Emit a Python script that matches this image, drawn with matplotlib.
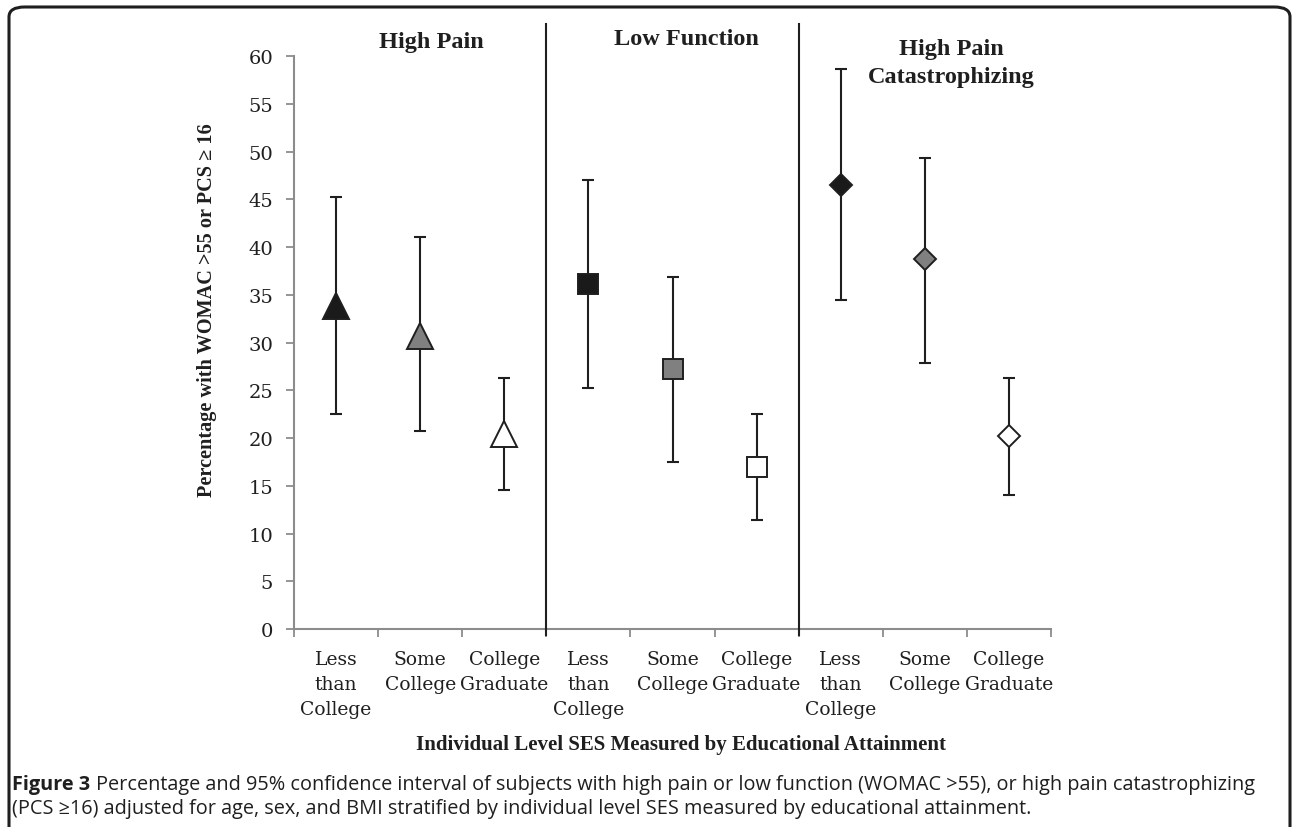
import matplotlib
matplotlib.use("Agg")
import matplotlib.pyplot as plt
from matplotlib.patches import FancyBboxPatch
import numpy as np

# data
groups = ["High Pain", "Low Function", "High Pain\nCatastrophizing"]
levels = ["Less\nthan\nCollege", "Some\nCollege", "College\nGraduate"]
high_pain = [33.8, 30.7, 20.4]
high_pain_lo = [22.5, 20.7, 14.6]
high_pain_hi = [45.2, 41.0, 26.3]
low_func = [36.1, 27.2, 17.0]
low_func_lo = [25.2, 17.5, 11.4]
low_func_hi = [47.0, 36.9, 22.5]
pcs = [46.5, 38.7, 20.2]
pcs_lo = [34.5, 27.9, 14.0]
pcs_hi = [58.6, 49.3, 26.3]

SERIF = ["DejaVu Serif"]
SERIF_B = ["Liberation Serif", "DejaVu Serif"]
SANS = ["Open Sans", "DejaVu Sans"]
SPINE = "#8c8c8c"
INK = "#1f1f1f"
fills = ["#1a1a1a", "#808080", "white"]

fig = plt.figure(figsize=(12.92, 8.28), dpi=100)
ax = fig.add_axes([294 / 1292, 1 - 630 / 828, (1051 - 294) / 1292, (630 - 57) / 828])

series = [
    (high_pain, high_pain_lo, high_pain_hi, "^", 19),
    (low_func, low_func_lo, low_func_hi, "s", 15),
    (pcs, pcs_lo, pcs_hi, "D", 11.5),
]
for g, (vals, lo, hi, mk, ms) in enumerate(series):
    for i in range(3):
        x = g * 3 + i
        v = vals[i]
        ax.errorbar([x], [v], yerr=[[v - lo[i]], [hi[i] - v]], fmt="none",
                    ecolor=INK, elinewidth=1.5, capsize=4.6, capthick=1.5,
                    zorder=2)
        ax.plot([x], [v], marker=mk, markersize=ms, color=fills[i],
                markeredgecolor=INK, markeredgewidth=1.4, zorder=3)

ax.set_xlim(-0.5, 8.5)
ax.set_ylim(0, 60)
ax.set_yticks(np.arange(0, 61, 5))
ax.set_xticks(np.arange(9))
ax.set_xticklabels(levels * 3, fontfamily=SERIF, fontsize=13.5,
                   linespacing=1.5, va="top", color=INK)
ax.set_xticks(np.arange(-0.5, 9, 1), minor=True)
ax.tick_params(axis="x", which="major", length=0, pad=15)
ax.tick_params(axis="x", which="minor", length=6, width=1.3, color=SPINE,
               direction="out")
ax.tick_params(axis="y", length=6, width=1.3, color=SPINE, direction="out",
               labelsize=14, pad=9)
for lab in ax.get_yticklabels():
    lab.set_fontfamily(SERIF)
    lab.set_color(INK)

for s in ["top", "right"]:
    ax.spines[s].set_visible(False)
for s in ["left", "bottom"]:
    ax.spines[s].set_color(SPINE)
    ax.spines[s].set_linewidth(1.5)

# panel dividers
for xd in [2.5, 5.5]:
    ax.axvline(xd, ymin=-0.01, ymax=1.056, color=INK, lw=1.5,
               clip_on=False, zorder=4)

# panel titles
tr = ax.get_xaxis_transform()
ax.text(1.13, 1.026, groups[0], transform=tr, ha="center", va="center",
        fontsize=17.5, fontweight="bold", fontfamily=SERIF_B, color=INK)
ax.text(4.16, 1.030, groups[1], transform=tr, ha="center", va="center",
        fontsize=17.5, fontweight="bold", fontfamily=SERIF_B, color=INK)
ax.text(7.32, 0.988, groups[2], transform=tr, ha="center", va="center",
        fontsize=17.5, fontweight="bold", fontfamily=SERIF_B, color=INK,
        linespacing=1.45)

fig.text(207 / 1292, 1 - 310 / 828, "Percentage with WOMAC >55 or PCS ≥ 16",
         rotation=90, ha="center", va="center", fontsize=14.6,
         fontweight="bold", fontfamily=SERIF_B, color=INK)
fig.text(681 / 1292, 1 - 745 / 828,
         "Individual Level SES Measured by Educational Attainment",
         ha="center", va="center", fontsize=15, fontweight="bold",
         fontfamily=SERIF_B, color=INK)

# caption
cap1 = fig.text(12 / 1292, 1 - 785 / 828, "Figure 3", ha="left", va="center",
                fontsize=14.3, fontweight="bold", fontfamily=SANS, color=INK)
fig.canvas.draw()
bb = cap1.get_window_extent()
fig.text((bb.x1 + 6) / 1292, 1 - 785 / 828,
         "Percentage and 95% confidence interval of subjects with high pain or "
         "low function (WOMAC >55), or high pain catastrophizing",
         ha="left", va="center", fontsize=14.3, fontfamily=SANS, color=INK)
fig.text(12 / 1292, 1 - 809 / 828,
         "(PCS ≥16) adjusted for age, sex, and BMI stratified by individual "
         "level SES measured by educational attainment.",
         ha="left", va="center", fontsize=14.3, fontfamily=SANS, color=INK)

# outer frame
frame = FancyBboxPatch((9 / 1292, -0.05), (1290 - 9) / 1292, (828 - 8) / 828 + 0.05,
                       boxstyle="round,pad=0,rounding_size=0.012",
                       transform=fig.transFigure, fill=False, ec=INK,
                       lw=2.2, clip_on=False)
fig.patches.append(frame)

fig.savefig("out.png", dpi=100)
